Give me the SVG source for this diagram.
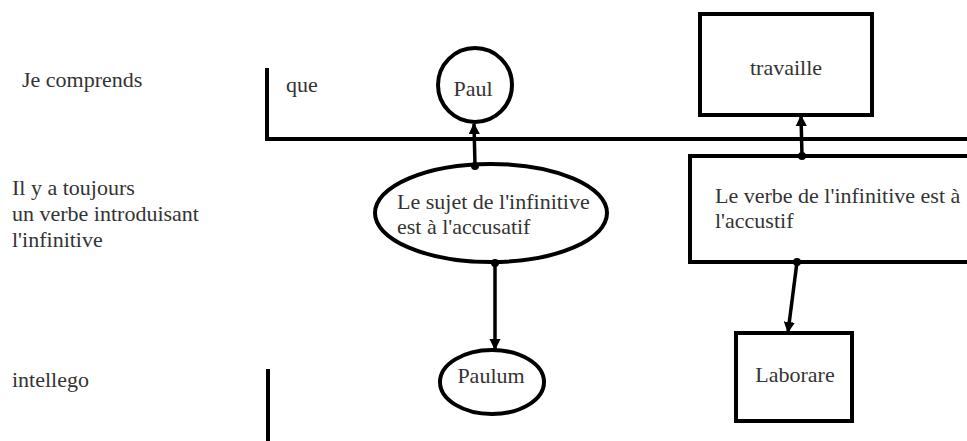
<svg xmlns="http://www.w3.org/2000/svg" width="967" height="441" viewBox="0 0 967 441">
<defs>
<style>
.t{font-family:"Liberation Serif","Times New Roman",serif;font-size:22px;fill:#333}
.s{fill:#fff;stroke:#000;stroke-width:4}
.l{fill:none;stroke:#000;stroke-width:4}
.c{fill:none;stroke:#000;stroke-width:3.5;marker-end:url(#ah)}
.d{fill:#000}
</style>
<marker id="ah" viewBox="0 0 10 10" refX="9" refY="5" markerWidth="3.2" markerHeight="3.2" orient="auto" markerUnits="strokeWidth">
<path d="M0,0 L10,5 L0,10 z" fill="#000"/>
</marker>
</defs>
<rect width="967" height="441" fill="#fff"/>
<g id="labels">
<text class="t" x="22" y="87">Je comprends</text>
<text class="t" x="12" y="195">Il y a toujours</text>
<text class="t" x="12" y="221">un verbe introduisant</text>
<text class="t" x="12" y="247">l'infinitive</text>
<text class="t" x="12" y="387">intellego</text>
<text class="t" x="286" y="92">que</text>
</g>
<g id="baselines">
<path class="l" d="M267,68 V139 H967"/>
<path class="l" d="M268,369 V441"/>
</g>
<g id="paul">
<circle class="s" cx="475" cy="85" r="37"/>
<text class="t" x="473" y="96" text-anchor="middle">Paul</text>
</g>
<g id="travaille">
<rect class="s" x="700" y="14" width="172" height="101"/>
<text class="t" x="786" y="75" text-anchor="middle">travaille</text>
</g>
<g id="sujet">
<ellipse class="s" cx="491" cy="213" rx="116" ry="49"/>
<text class="t" x="397" y="209">Le sujet de l'infinitive</text>
<text class="t" x="397" y="234">est à l'accusatif</text>
</g>
<g id="verbe">
<rect class="s" x="690" y="156" width="290" height="106"/>
<text class="t" x="715" y="203">Le verbe de l'infinitive est à</text>
<text class="t" x="715" y="228">l'accustif</text>
</g>
<g id="paulum">
<ellipse class="s" cx="492" cy="382" rx="52" ry="32"/>
<text class="t" x="491" y="383" text-anchor="middle">Paulum</text>
</g>
<g id="laborare">
<rect class="s" x="736" y="333" width="116" height="88"/>
<text class="t" x="795" y="382" text-anchor="middle">Laborare</text>
</g>
<g id="connectors">
<path class="c" d="M475,166 L474,124"/>
<circle class="d" cx="475" cy="166" r="4"/>
<path class="c" d="M802,156 L801,116"/>
<circle class="d" cx="802" cy="156" r="4"/>
<path class="c" d="M495,263 L495,349"/>
<circle class="d" cx="495" cy="263" r="4"/>
<path class="c" d="M797,262 L788,332"/>
<circle class="d" cx="797" cy="262" r="4"/>
</g>
</svg>
